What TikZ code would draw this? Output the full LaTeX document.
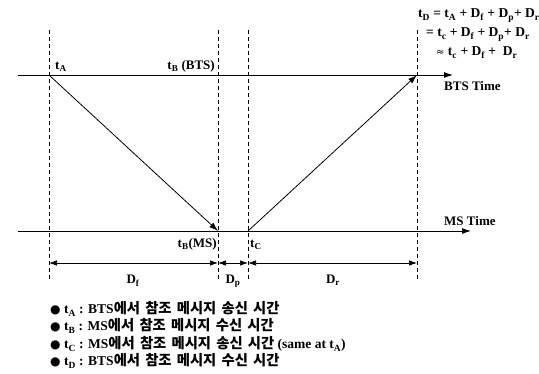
\documentclass[tikz,border=0pt]{standalone}
\usepackage{fontspec}
\setmainfont{Liberation Serif}
\newfontfamily\kr{Noto Sans CJK KR}[Scale=1.06, WordSpace=1.6]
\newfontfamily\dv{DejaVu Sans}
\usetikzlibrary{arrows.meta}
\newcommand{\sbs}[1]{\textsubscript{#1}}
\begin{document}
\begin{tikzpicture}[x=1pt,y=-1pt,
  vdash/.style={draw, line width=0.6pt, dash pattern=on 4pt off 3pt},
  tline/.style={draw, line width=0.9pt, -{Latex[length=9pt,width=6pt]}},
  sig/.style={draw, line width=0.8pt, -{Latex[length=9pt,width=6pt]}},
  dim/.style={draw, line width=0.7pt, {Latex[length=8pt,width=5.5pt]}-{Latex[length=8pt,width=5.5pt]}},
  lbl/.style={font=\bfseries\fontsize{13}{15}\selectfont, inner sep=0pt},
  eq/.style={font=\bfseries\fontsize{13.5}{15}\selectfont, inner sep=0pt, anchor=base west},
  leg/.style={font=\bfseries\fontsize{13.5}{15}\selectfont, inner sep=0pt, anchor=base west}]
\useasboundingbox (0,0) rectangle (539,374);
% key coordinates
\coordinate (atop) at (49,30);   \coordinate (abot) at (49,280);
\coordinate (btop) at (218,30);  \coordinate (bbot) at (218,280);
\coordinate (ctop) at (248,30);  \coordinate (cbot) at (248,280);
\coordinate (dtop) at (417,30);  \coordinate (dbot) at (417,280);
\coordinate (btsL) at (18,75);   \coordinate (btsR) at (453,75);
\coordinate (msL) at (18,231);   \coordinate (msR) at (471,231);
\coordinate (A) at (49,75);  \coordinate (B) at (218,231);
\coordinate (C) at (248,231); \coordinate (D) at (417,75);
\coordinate (dA) at (49,263); \coordinate (dB) at (218,263);
\coordinate (dC) at (248,263); \coordinate (dD) at (417,263);
% dashed verticals
\path[vdash] (atop) -- (abot);
\path[vdash] (btop) -- (bbot);
\path[vdash] (ctop) -- (cbot);
\path[vdash] (dtop) -- (dbot);
% time lines
\path[tline] (btsL) -- (btsR);
\path[tline] (msL) -- (msR);
% signals
\path[sig] (A) -- (B);
\path[sig] (C) -- (D);
% dimensions
\path[dim] (dA) -- (dB);
\path[dim] (dB) -- (dC);
\path[dim] (dC) -- (dD);
% labels
\node[lbl, anchor=base west] (la) at (55,70) {t\sbs{A}};
\node[lbl, anchor=base east] (lb) at (215,70) {t\sbs{B} (BTS)};
\node[lbl, anchor=base east] (lbm) at (217,248) {t\sbs{B}(MS)};
\node[lbl, anchor=base west] (lc) at (250,248) {t\sbs{C}};
\node[lbl, anchor=base west] (bt) at (444,91) {BTS Time};
\node[lbl, anchor=base west] (mt) at (444,226) {MS Time};
\node[lbl, anchor=base] (df) at (133,284) {D\sbs{f}};
\node[lbl, anchor=base] (dp) at (233,284) {D\sbs{p}};
\node[lbl, anchor=base] (dr) at (333,284) {D\sbs{r}};
% equations
\node[eq] (e1) at (418,18) {t\sbs{D} = t\sbs{A} + D\sbs{f} + D\sbs{p}+ D\sbs{r}};
\node[eq] (e2) at (426,37) {= t\sbs{c} + D\sbs{f} + D\sbs{p}+ D\sbs{r}};
\node[eq] (e3) at (436,56) {{\dv\mdseries\fontsize{10}{11}\selectfont ≈} t\sbs{c} + D\sbs{f} +~ D\sbs{r}};
% legend
\node[leg] (g1) at (50,314) {{\dv\fontsize{12}{14}\selectfont ●} t\sbs{A} : BTS{\kr 에서 참조 메시지 송신 시간}};
\node[leg] (g2) at (50,331) {{\dv\fontsize{12}{14}\selectfont ●} t\sbs{B} : MS{\kr 에서 참조 메시지 수신 시간}};
\node[leg] (g3) at (50,349) {{\dv\fontsize{12}{14}\selectfont ●} t\sbs{C} : MS{\kr 에서 참조 메시지 송신 시간} (same at t\sbs{A})};
\node[leg] (g4) at (50,366) {{\dv\fontsize{12}{14}\selectfont ●} t\sbs{D} : BTS{\kr 에서 참조 메시지 수신 시간}};
\end{tikzpicture}
\end{document}
